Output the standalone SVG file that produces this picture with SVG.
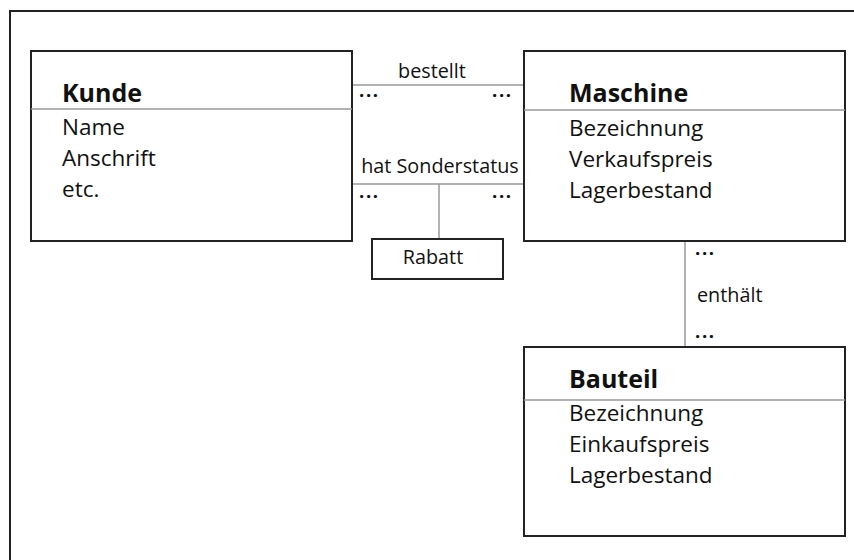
<svg xmlns="http://www.w3.org/2000/svg" width="854" height="560" viewBox="0 0 854 560">
  <style>
    text { font-family: "Open Sans", Lato, "Liberation Sans", sans-serif; fill: #111; }
    .title { font-size: 25px; font-weight: bold; }
    .attr { font-size: 22.5px; }
    .lbl { font-size: 19.8px; }
    .dots { font-size: 18.5px; font-weight: bold; letter-spacing: 1.6px; }
    .box { fill: #fff; stroke: #222; stroke-width: 2; }
    .sep { stroke: #999; stroke-width: 1.5; }
    .conn { stroke: #999; stroke-width: 1.5; fill: none; }
  </style>
  <rect width="854" height="560" fill="#fff"/>
  <!-- page frame, open to the right and bottom -->
  <rect x="10" y="11" width="900" height="600" fill="none" stroke="#222" stroke-width="2"/>

  <g id="connectors">
    <line class="conn" x1="352" y1="85" x2="524" y2="85"/>
    <line class="conn" x1="352" y1="184" x2="524" y2="184"/>
    <line class="conn" x1="439" y1="184" x2="439" y2="239"/>
    <line class="conn" x1="685" y1="241" x2="685" y2="347"/>
    <text class="lbl" x="432" y="78" text-anchor="middle">bestellt</text>
    <text class="dots" x="359" y="97">...</text>
    <text class="dots" x="492" y="97">...</text>
    <text class="lbl" x="440" y="173" text-anchor="middle">hat Sonderstatus</text>
    <text class="dots" x="359" y="198">...</text>
    <text class="dots" x="492" y="198">...</text>
    <text class="dots" x="695" y="255">...</text>
    <text class="lbl" x="697" y="302">enthält</text>
    <text class="dots" x="695" y="338">...</text>
  </g>

  <g id="kunde">
    <rect class="box" x="31" y="51" width="321" height="190"/>
    <line class="sep" x1="31" y1="109" x2="352" y2="109"/>
    <text class="title" x="62" y="102">Kunde</text>
    <text class="attr" x="62" y="135">Name</text>
    <text class="attr" x="62" y="166">Anschrift</text>
    <text class="attr" x="62" y="197">etc.</text>
  </g>

  <g id="maschine">
    <rect class="box" x="524" y="51" width="321" height="190"/>
    <line class="sep" x1="524" y1="110" x2="845" y2="110"/>
    <text class="title" x="569" y="102">Maschine</text>
    <text class="attr" x="569" y="136">Bezeichnung</text>
    <text class="attr" x="569" y="167">Verkaufspreis</text>
    <text class="attr" x="569" y="198">Lagerbestand</text>
  </g>

  <g id="rabatt">
    <rect class="box" x="372" y="239" width="131" height="40" stroke-width="1.8"/>
    <text class="lbl" x="433" y="264" text-anchor="middle">Rabatt</text>
  </g>

  <g id="bauteil">
    <rect class="box" x="524" y="347" width="321" height="189"/>
    <line class="sep" x1="524" y1="400" x2="845" y2="400"/>
    <text class="title" x="569" y="388">Bauteil</text>
    <text class="attr" x="569" y="421">Bezeichnung</text>
    <text class="attr" x="569" y="452">Einkaufspreis</text>
    <text class="attr" x="569" y="483">Lagerbestand</text>
  </g>
</svg>
